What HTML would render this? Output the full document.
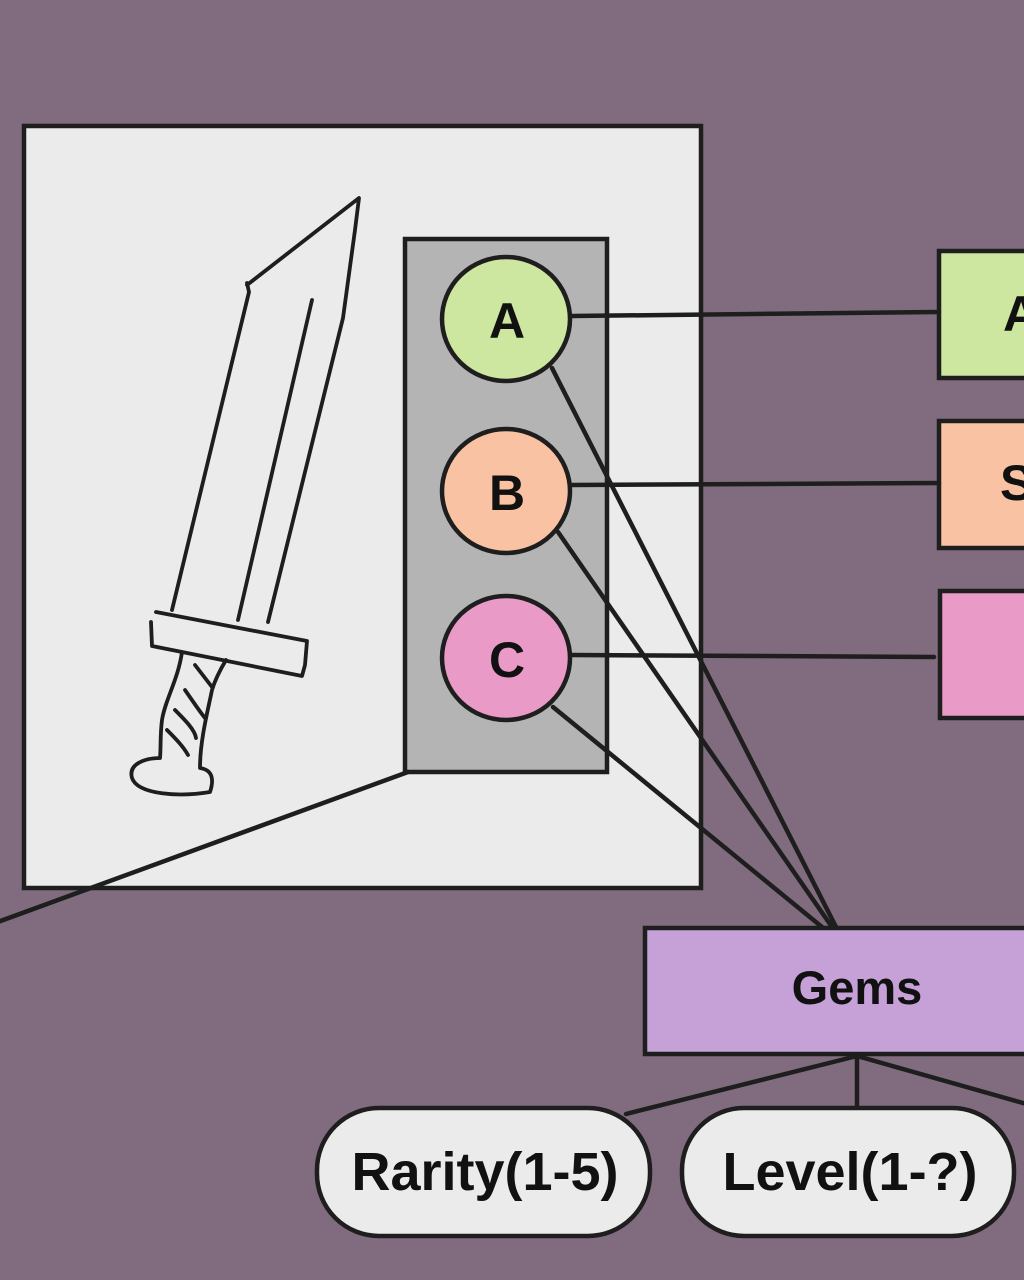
<!DOCTYPE html>
<html><head><meta charset="utf-8"><style>
html,body{margin:0;padding:0;background:#806c7e;}
svg{display:block}
text{font-family:"Liberation Sans",Arial,sans-serif;font-weight:bold;fill:#111;text-anchor:middle;}
</style></head><body>
<svg width="1024" height="1280" viewBox="0 0 1024 1280" xmlns="http://www.w3.org/2000/svg">
<rect width="1024" height="1280" fill="#806c7e"/>
<g stroke="#1e1e1e" stroke-width="4.5">
<rect x="24" y="126" width="677" height="762" fill="#ebebeb"/>
<rect x="405" y="239" width="202" height="533" fill="#b4b4b4"/>
<ellipse cx="506" cy="319" rx="64" ry="62" fill="#cde6a0"/>
<ellipse cx="506" cy="491" rx="64" ry="62" fill="#f9c3a3"/>
<ellipse cx="506" cy="658" rx="64" ry="62" fill="#e99ac7"/>
<rect x="939" y="251" width="100" height="127" fill="#cde6a0"/>
<rect x="939" y="421" width="100" height="127" fill="#f9c3a3"/>
<rect x="940" y="591" width="100" height="127" fill="#e99ac7"/>
<rect x="645" y="928" width="400" height="126" fill="#c6a1d8"/>
<rect x="317" y="1108" width="333" height="128" rx="62" fill="#ebebeb"/>
<rect x="682" y="1108" width="332" height="128" rx="62" fill="#ebebeb"/>
</g>
<g stroke="#1e1e1e" stroke-width="4.5" fill="none" stroke-linecap="round">
<line x1="572" y1="316" x2="939" y2="312"/>
<line x1="572" y1="485" x2="939" y2="483"/>
<line x1="572" y1="655" x2="934" y2="657"/>
<line x1="552" y1="368" x2="836" y2="927"/>
<line x1="558" y1="532" x2="832" y2="927"/>
<line x1="553" y1="707" x2="822" y2="927"/>
<line x1="408" y1="772" x2="-5" y2="923"/>
<line x1="857" y1="1056" x2="626" y2="1114"/>
<line x1="857" y1="1056" x2="857" y2="1106"/>
<line x1="857" y1="1056" x2="1030" y2="1105"/>
</g>
<g stroke="#1e1e1e" stroke-width="3.8" fill="none" stroke-linecap="round" stroke-linejoin="round">
<path d="M247 285 L359 198 L355 230 L343 318 L268 622"/>
<path d="M247 283 L249 292 L172 610"/>
<path d="M312 300 L238 620"/>
<path d="M156 612 L307 641 L305 665 L302 676 L152 646 L151 622"/>
<path d="M182 652 C178 680 165 700 162 720 C160 735 161 748 160 758 C145 758 128 764 132 778 C138 795 180 797 210 792 C214 780 213 770 200 768 C200 740 208 710 212 690 C215 680 220 670 226 660"/>
<path d="M195 665 L212 687"/>
<path d="M185 690 C192 700 200 712 205 718"/>
<path d="M175 710 C185 720 195 730 196 738"/>
<path d="M167 730 C175 738 183 746 188 755"/>
</g>
<text x="507" y="338" font-size="50">A</text>
<text x="507" y="510" font-size="50">B</text>
<text x="507" y="677" font-size="50">C</text>
<text x="1003" y="331" font-size="50" style="text-anchor:start">A</text>
<text x="1000" y="500" font-size="50" style="text-anchor:start">S</text>
<text x="857" y="1004" font-size="47">Gems</text>
<text x="485" y="1190" font-size="54">Rarity(1-5)</text>
<text x="850" y="1190" font-size="54">Level(1-?)</text>
</svg>
</body></html>
